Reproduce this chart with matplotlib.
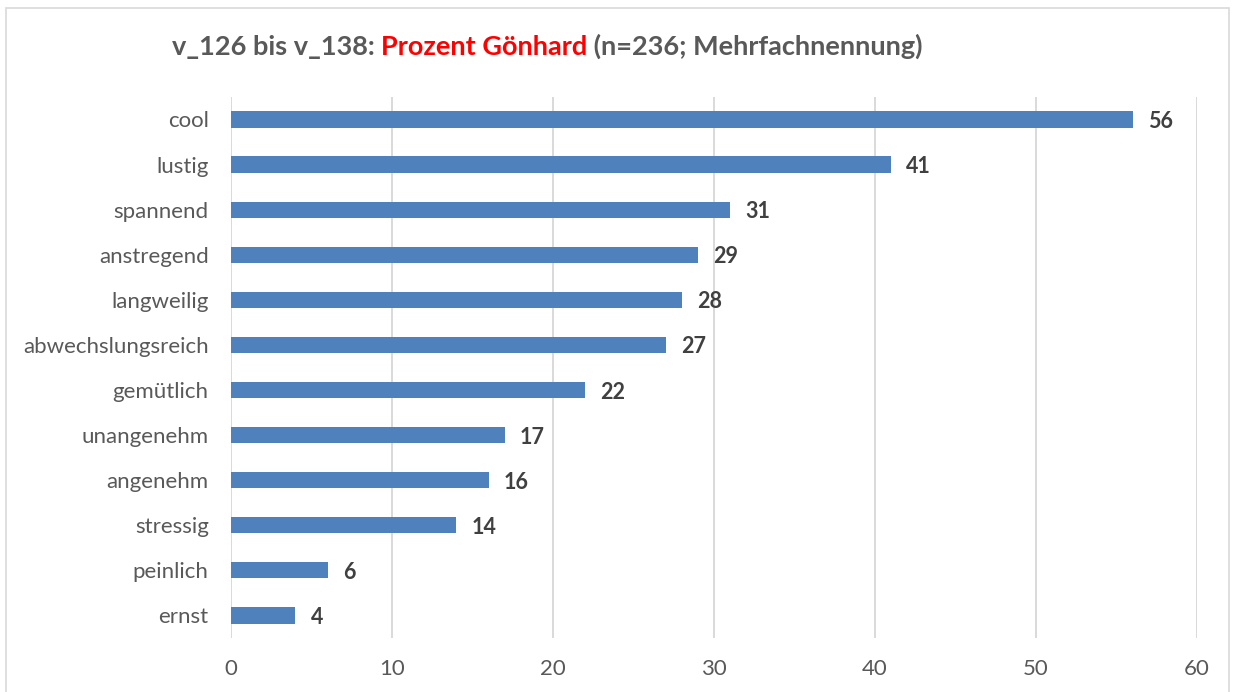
import matplotlib.pyplot as plt
from matplotlib.patches import Rectangle

# data
categories = ["cool", "lustig", "spannend", "anstregend", "langweilig",
              "abwechslungsreich", "gemütlich", "unangenehm", "angenehm",
              "stressig", "peinlich", "ernst"]
values = [56, 41, 31, 29, 28, 27, 22, 17, 16, 14, 6, 4]
x_ticks = [0, 10, 20, 30, 40, 50, 60]

plt.rcParams["font.family"] = ["Lato", "DejaVu Sans"]

fig = plt.figure(figsize=(12.35, 6.92), dpi=100)
ax = fig.add_axes([0.187, 0.078, 0.7822, 0.782])

# light border around the chart area
fig.patches.append(Rectangle((0.005, -0.01), 0.99, 0.998, transform=fig.transFigure,
                             fill=False, edgecolor="#d9d9d9", linewidth=1.2))

pos = list(range(len(categories)))
ax.barh(pos, values, height=0.36, color="#4f81bd", zorder=3)

for p, v in zip(pos, values):
    ax.annotate(str(v), xy=(v, p), xytext=(11, -1.5), textcoords="offset points",
                va="center", ha="left", fontsize=15.5, fontweight="bold", color="#404040")

ax.set_xlim(0, 60)
ax.set_ylim(len(categories) - 0.5, -0.5)
ax.set_yticks(pos)
ax.set_yticklabels(categories)
ax.set_xticks(x_ticks)
ax.tick_params(axis="both", length=0, labelsize=16, colors="#595959")
ax.tick_params(axis="y", pad=16)
ax.tick_params(axis="x", pad=15)
ax.grid(axis="x", color="#d9d9d9", linewidth=1.4, zorder=0)
for s in ax.spines.values():
    s.set_visible(False)

# title in three colored pieces
t1 = fig.text(0.139, 0.932, "v_126 bis v_138: ", fontsize=19.5, fontweight="bold",
              color="#595959", va="center", ha="left")
t2 = ax.annotate("Prozent Gönhard", xy=(1, 0), xycoords=t1, va="bottom", ha="left",
                 fontsize=19.5, fontweight="bold", color="#ff0000", annotation_clip=False)
t3 = ax.annotate(" (n=236; Mehrfachnennung)", xy=(1, 0), xycoords=t2, va="bottom", ha="left",
                 fontsize=19.5, fontweight="bold", color="#595959", annotation_clip=False)

fig.savefig("out.png", dpi=100)
